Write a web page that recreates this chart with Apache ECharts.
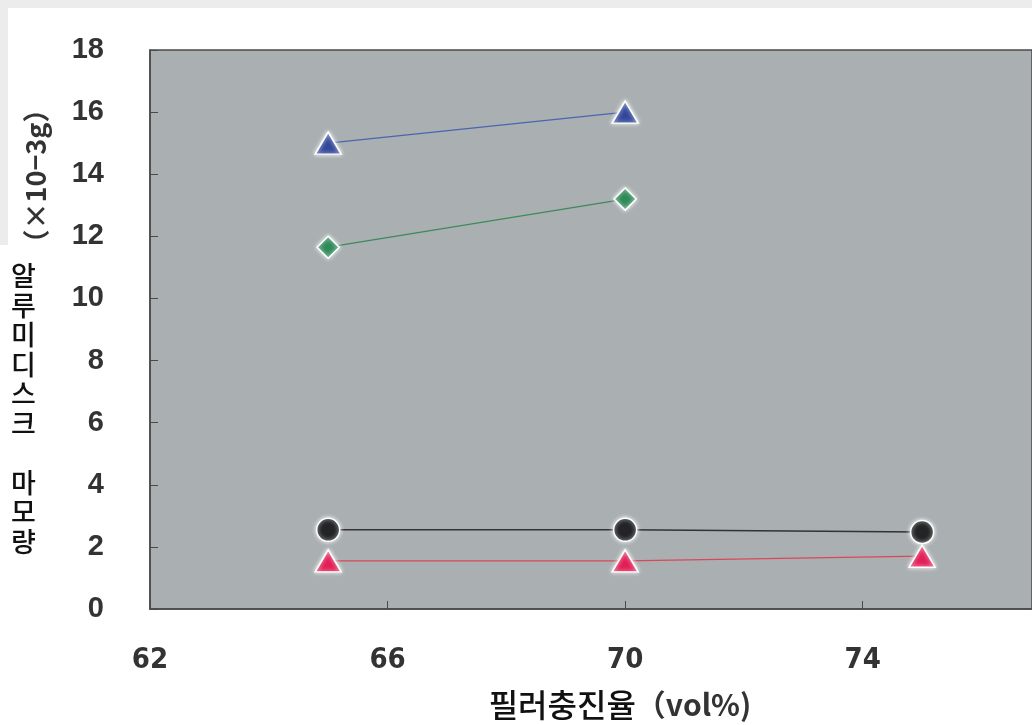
<!DOCTYPE html>
<html style="height: 100%">
   <head>
       <meta charset="utf-8">
   </head>
   <body style="height: 100%; margin: 0">
       <div id="container" style="width: 1032px; height: 725px"></div>
       <script type="text/javascript" src="https://cdn.jsdelivr.net/npm/echarts@6/dist/echarts.min.js"></script>
       <script type="text/javascript">
// filler fraction (vol%) on x
var fillX = [65, 70, 75];
var blueTri = [15.0, 16.0];
var greenDia = [11.65, 13.2];
var blackCircle = [2.55, 2.55, 2.48];
var redTri = [1.55, 1.55, 1.7];
var yTicks = [0, 2, 4, 6, 8, 10, 12, 14, 16, 18];

function pairs(vals) {
    return vals.map(function (v, i) { return [fillX[i], v]; });
}

var dom = document.getElementById("container");
var myChart = echarts.init(dom);

var marker = { borderColor: '#ffffff', borderWidth: 1.5, shadowColor: 'rgba(255,255,255,0.9)', shadowBlur: 4 };

var option = {
    backgroundColor: '#ffffff',
    animation: false,
    grid: {
        left: 150, top: 50, right: 0, bottom: 116,
        show: true,
        backgroundColor: '#aab0b2',
        borderColor: '#4a4a4a',
        borderWidth: 1.5
    },
    xAxis: {
        type: 'value',
        min: 62, max: 76.85, interval: 4,
        axisLine: { show: true, lineStyle: { color: '#4a4a4a', width: 1.5 } },
        axisTick: { show: true, inside: true, length: 8, lineStyle: { color: '#4a4a4a' } },
        splitLine: { show: false },
        axisLabel: {
            showMaxLabel: false,
            margin: 37,
            color: '#333',
            fontSize: 29,
            fontWeight: 'bold',
            fontFamily: '"DejaVu Sans Condensed", "Liberation Sans Narrow", sans-serif'
        }
    },
    yAxis: {
        type: 'value',
        min: yTicks[0], max: yTicks[yTicks.length - 1], interval: 2,
        axisLine: { show: true, lineStyle: { color: '#4a4a4a', width: 1.5 } },
        axisTick: { show: true, inside: true, length: 8, lineStyle: { color: '#4a4a4a' } },
        splitLine: { show: false },
        axisLabel: {
            margin: 46,
            color: '#333',
            fontSize: 29,
            fontWeight: 'bold',
            fontFamily: '"Liberation Sans", Arial, sans-serif'
        }
    },
    graphic: [
        { type: 'rect', shape: { x: 0, y: 0, width: 1032, height: 8 }, style: { fill: '#ececec' } },
        { type: 'rect', shape: { x: 0, y: 0, width: 8, height: 245 }, style: { fill: '#ececec' } },
        {
            type: 'text', left: 11, top: 261,
            style: {
                text: '알\n루\n미\n디\n스\n크\n \n마\n모\n량',
                font: '500 27px "Noto Sans CJK KR"',
                lineHeight: 29.5,
                fill: '#111',
                align: 'center'
            }
        },
        {
            type: 'text', x: 36, y: 176, rotation: Math.PI / 2,
            style: {
                text: '（×10−3g）',
                font: 'bold 27px "Noto Sans CJK KR"',
                fill: '#333',
                align: 'center',
                verticalAlign: 'middle'
            }
        },
        {
            type: 'text', x: 620, y: 705,
            style: {
                text: '{k|필러충진율}{u|（vol%)}',
                align: 'center',
                verticalAlign: 'middle',
                rich: {
                    k: { font: '500 32px "Noto Sans CJK KR"', fill: '#111' },
                    u: { font: 'bold 30px "Noto Sans CJK KR"', fill: '#333' }
                }
            }
        }
    ],
    series: [
        {
            type: 'line', data: pairs(blueTri),
            symbol: 'triangle', symbolSize: [26, 22],
            lineStyle: { color: '#4a64b0', width: 1.2 },
            itemStyle: Object.assign({ color: '#33479a' }, marker)
        },
        {
            type: 'line', data: pairs(greenDia),
            symbol: 'diamond', symbolSize: [22, 22],
            lineStyle: { color: '#3c8a5c', width: 1.2 },
            itemStyle: Object.assign({ color: '#2e8a57' }, marker)
        },
        {
            type: 'line', data: pairs(blackCircle),
            symbol: 'circle', symbolSize: 23,
            lineStyle: { color: '#333', width: 1.5 },
            itemStyle: Object.assign({ color: '#222426' }, marker)
        },
        {
            type: 'line', data: pairs(redTri),
            symbol: 'triangle', symbolSize: [26, 22],
            lineStyle: { color: '#d9485a', width: 1.2 },
            itemStyle: Object.assign({ color: '#e21e55' }, marker)
        }
    ]
};

myChart.setOption(option);
       </script>
   </body>
</html>
